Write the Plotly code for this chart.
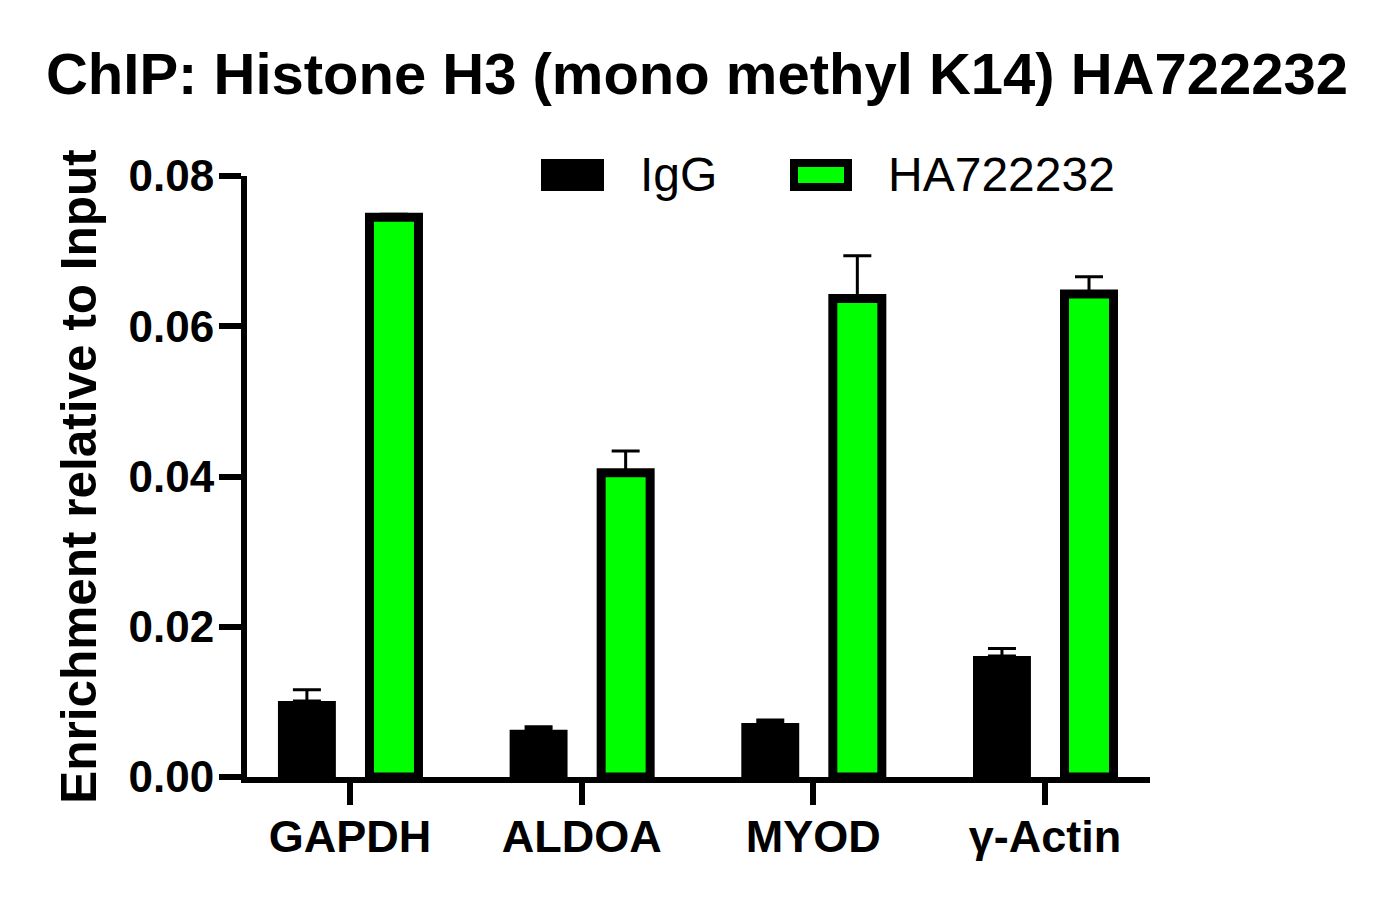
import plotly.graph_objects as go

categories = ["GAPDH", "ALDOA", "MYOD", "γ-Actin"]
igg_values = [0.0101, 0.0063, 0.0072, 0.0161]
igg_errors = [0.0015, 0.0004, 0.0004, 0.0010]
ha_values = [0.0745, 0.0405, 0.0637, 0.0643]
ha_errors = [0.0004, 0.0029, 0.0057, 0.0023]
y_ticks = [0.00, 0.02, 0.04, 0.06, 0.08]
y_tick_labels = ["0.00", "0.02", "0.04", "0.06", "0.08"]
series_names = ["IgG", "HA722232"]

FONT = "Liberation Sans, Arial, sans-serif"
GREEN = "#00ff00"

fig = go.Figure()
fig.add_trace(go.Bar(
    x=categories, y=igg_values, name=series_names[0],
    offset=-0.311, width=0.250,
    marker=dict(color="black", line=dict(width=0)),
    error_y=dict(type="data", array=igg_errors, arrayminus=[0] * 4, symmetric=False,
                 color="black", thickness=3, width=14),
    showlegend=False,
))
fig.add_trace(go.Bar(
    x=categories, y=ha_values, name=series_names[1],
    offset=0.084, width=0.2115,
    marker=dict(color=GREEN, line=dict(width=9, color="black")),
    error_y=dict(type="data", array=ha_errors, arrayminus=[0] * 4, symmetric=False,
                 color="black", thickness=3, width=14),
    showlegend=False,
))

# page has an 8px body margin; the figure is laid out in its own coordinates
OFF = 8
W, H = 1380, 901
ml, mt = 247 - OFF, 176 - OFF
pw, ph = 903, 601
mr, mb = W - ml - pw, H - mt - ph

def px2paper(x, y):
    x -= OFF
    y -= OFF
    return (x - ml) / pw, (H - mb - y) / ph

sw = []
x0, y0 = px2paper(541, 159)
x1, y1 = px2paper(604, 191)
sw.append(dict(type="rect", xref="paper", yref="paper", x0=x0, x1=x1, y0=y1, y1=y0,
               fillcolor="black", line=dict(width=0)))
x0, y0 = px2paper(794, 163)
x1, y1 = px2paper(848, 187)
sw.append(dict(type="rect", xref="paper", yref="paper", x0=x0, x1=x1, y0=y1, y1=y0,
               fillcolor=GREEN, line=dict(width=8, color="black")))

ann = []
ax_, ay_ = px2paper(638, 174)
ann.append(dict(text=series_names[0], xref="paper", yref="paper", x=ax_, y=ay_,
                xanchor="left", yanchor="middle", showarrow=False,
                font=dict(family=FONT, size=48, color="black")))
ax_, ay_ = px2paper(886, 174)
ann.append(dict(text=series_names[1], xref="paper", yref="paper", x=ax_, y=ay_,
                xanchor="left", yanchor="middle", showarrow=False,
                font=dict(family=FONT, size=48, color="black")))

fig.update_layout(
    width=W, height=H,
    margin=dict(l=ml, r=mr, t=mt, b=mb, autoexpand=False),
    paper_bgcolor="white", plot_bgcolor="white",
    barmode="overlay",
    shapes=sw, annotations=ann,
    title=dict(text="<b>ChIP: Histone H3 (mono methyl K14) HA722232</b>",
               x=(697 - OFF) / W, xref="container", xanchor="center",
               y=1 - (74 - OFF) / H, yref="container", yanchor="middle",
               font=dict(family=FONT, size=58, color="black")),
    font=dict(family=FONT, color="black"),
)
fig.update_xaxes(
    type="category", range=[-0.4446, 3.453],
    showline=True, linewidth=6, linecolor="black",
    ticks="outside", ticklen=22, tickwidth=6, tickcolor="black",
    ticklabelstandoff=-7,
    tickfont=dict(family=FONT, size=45, color="black", weight="bold"),
    showgrid=False, zeroline=False, fixedrange=True,
)
fig.update_yaxes(
    range=[0, 0.08], tickvals=y_ticks, ticktext=y_tick_labels,
    showline=True, linewidth=6, linecolor="black",
    ticks="outside", ticklen=22, tickwidth=6, tickcolor="black",
    ticklabelstandoff=-4,
    tickfont=dict(family=FONT, size=44, color="black", weight="bold"),
    title=dict(text="<b>Enrichment relative to Input</b>", standoff=18,
               font=dict(family=FONT, size=49.5, color="black")),
    showgrid=False, zeroline=False, fixedrange=True,
)
fig.write_html("out.html")
